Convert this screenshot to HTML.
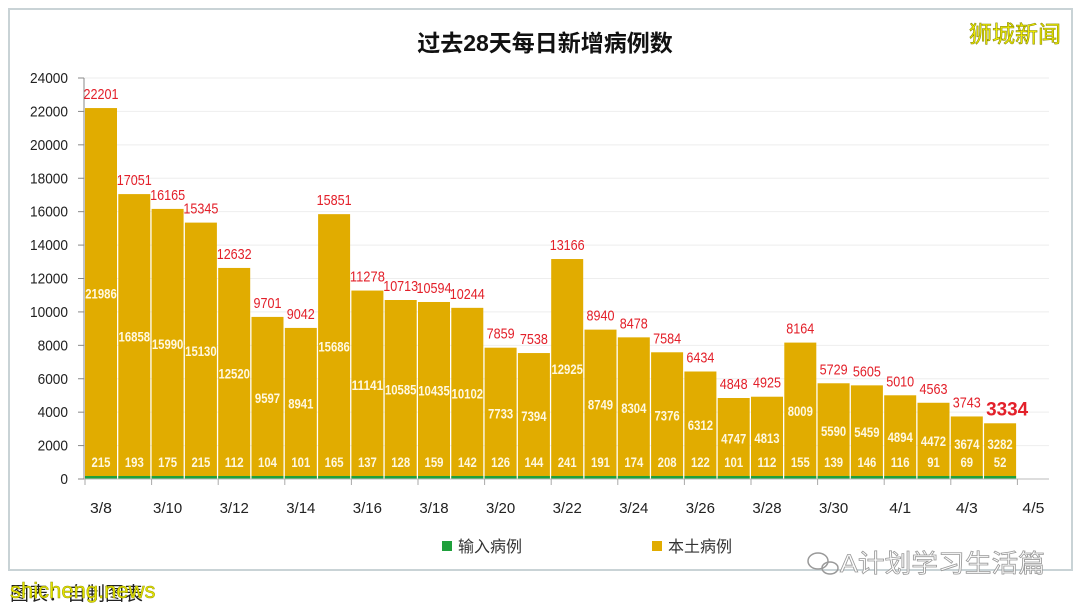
<!DOCTYPE html>
<html><head><meta charset="utf-8"><style>
html,body{margin:0;padding:0;background:#fff;width:1080px;height:609px;overflow:hidden}
svg{display:block}
</style></head><body>
<svg id="s" width="1080" height="609" xmlns="http://www.w3.org/2000/svg" font-family="'Liberation Sans','Noto Sans CJK SC',sans-serif">
<rect x="9" y="9" width="1063" height="561" fill="#fff" stroke="#c9d3d6" stroke-width="2"/>
<text x="545" y="51" font-size="23" font-weight="bold" text-anchor="middle" fill="#111">过去28天每日新增病例数</text>
<text x="1015" y="42" font-size="23" text-anchor="middle" fill="#f2f000" stroke="#8a8a00" stroke-width="0.6">狮城新闻</text>
<g id="g"></g>
<rect x="442" y="541" width="10" height="10" fill="#1fa03c"/>
<text x="458" y="552" font-size="16" fill="#333">输入病例</text>
<rect x="652" y="541" width="10" height="10" fill="#e1ac00"/>
<text x="668" y="552" font-size="16" fill="#333">本土病例</text>
<g fill="none" stroke="#999" stroke-width="1.5"><ellipse cx="818" cy="561" rx="10" ry="8"/><ellipse cx="830" cy="568" rx="8" ry="6"/></g>
<text x="840" y="572" font-size="25" fill="#fff" stroke="#999" stroke-width="0.8" textLength="205" lengthAdjust="spacingAndGlyphs">A计划学习生活篇</text>
<text x="10" y="600" font-size="19" fill="#222">图表：自制图表</text>
<text x="10" y="598" font-size="22" fill="#e4e400" stroke="#9a9a00" stroke-width="0.5">shicheng.news</text>
</svg>
<script>
var T=[22201,17051,16165,15345,12632,9701,9042,15851,11278,10713,10594,10244,7859,7538,13166,8940,8478,7584,6434,4848,4925,8164,5729,5605,5010,4563,3743,3334];
var L=[21986,16858,15990,15130,12520,9597,8941,15686,11141,10585,10435,10102,7733,7394,12925,8749,8304,7376,6312,4747,4813,8009,5590,5459,4894,4472,3674,3282];
var I=[215,193,175,215,112,104,101,165,137,128,159,142,126,144,241,191,174,208,122,101,112,155,139,146,116,91,69,52];
var y0=479,k=401/24000,h='';
function Y(v){return y0-v*k}
for(var v=0;v<=24000;v+=2000){var y=Y(v);
 if(v>0)h+='<line x1="84" x2="1049" y1="'+y+'" y2="'+y+'" stroke="#eeeeee"/>';
 h+='<line x1="78" x2="84" y1="'+y+'" y2="'+y+'" stroke="#888"/>';
 h+='<text x="68" y="'+(y+5)+'" font-size="15" text-anchor="end" fill="#222" textLength="'+(String(v).length*7.6)+'" lengthAdjust="spacingAndGlyphs">'+v+'</text>';}
h+='<line x1="84" x2="84" y1="78" y2="479" stroke="#888"/>';
var p=33.3;
for(var i=0;i<28;i++){var x=85+i*p,w=32,c=x+16;
 h+='<rect x="'+x+'" y="'+Y(T[i])+'" width="'+w+'" height="'+(T[i]*k)+'" fill="#e1ac00"/>';
 h+='<rect x="'+x+'" y="'+(y0-3)+'" width="'+w+'" height="3" fill="#1fa03c"/>';
 var ly=Math.min((Y(T[i])+y0)/2,444)+5;
 var s=String(L[i]);
 h+='<text x="'+c+'" y="'+ly+'" font-size="14" font-weight="bold" text-anchor="middle" fill="#fff8e0" textLength="'+(s.length*6.3)+'" lengthAdjust="spacingAndGlyphs">'+s+'</text>';
 s=String(I[i]);
 h+='<text x="'+c+'" y="'+467+'" font-size="14" font-weight="bold" text-anchor="middle" fill="#fff8e0" textLength="'+(s.length*6.3)+'" lengthAdjust="spacingAndGlyphs">'+s+'</text>';
 s=String(T[i]);
 if(i<27)h+='<text x="'+c+'" y="'+(Y(T[i])-9)+'" font-size="15" text-anchor="middle" fill="#e3202a" textLength="'+(s.length*7)+'" lengthAdjust="spacingAndGlyphs">'+s+'</text>';
 else h+='<text x="'+(c+7)+'" y="'+(Y(T[i])-8)+'" font-size="19" font-weight="bold" text-anchor="middle" fill="#e3202a" textLength="42" lengthAdjust="spacingAndGlyphs">'+s+'</text>';
}
h+='<line x1="84" x2="1049" y1="479" y2="479" stroke="#bbb"/>';
var d=['3/8','3/10','3/12','3/14','3/16','3/18','3/20','3/22','3/24','3/26','3/28','3/30','4/1','4/3','4/5'];
for(var j=0;j<15;j++){var tx=85+j*2*p;
 h+='<line x1="'+tx+'" x2="'+tx+'" y1="479" y2="485" stroke="#aaa"/>';
 h+='<text x="'+(tx+16)+'" y="'+513+'" font-size="15" text-anchor="middle" fill="#222" textLength="'+(d[j].length*7.3)+'" lengthAdjust="spacingAndGlyphs">'+d[j]+'</text>';}
document.getElementById('g').innerHTML=h;
</script>
</body></html>
